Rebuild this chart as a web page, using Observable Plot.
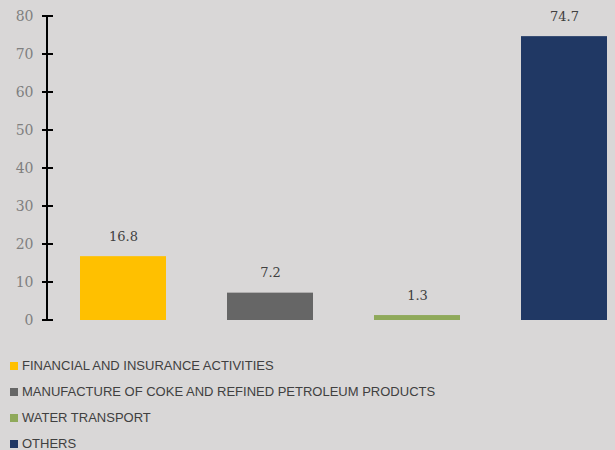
<!DOCTYPE html>
<html>
<head>
<meta charset="utf-8">
<script src="https://cdn.jsdelivr.net/npm/d3@7"></script>
<script src="https://cdn.jsdelivr.net/npm/@observablehq/plot@0.6"></script>
<style>
  html, body { margin: 0; padding: 0; background: #d9d7d7; }
  #chart { width: 615px; height: 450px; overflow: hidden; background: #d9d7d7; }
  .legend { padding: 13px 0 0 10px; font-family: "Liberation Sans", Arial, sans-serif; font-size: 13px; color: #404040; }
  .legend div { height: 26px; line-height: 26px; display: flex; align-items: center; }
  .legend span.sw { display: inline-block; width: 8px; height: 8px; margin-right: 4px; }
</style>
</head>
<body>
<div id="chart"></div>
<script>
const categories = [
  "FINANCIAL AND INSURANCE ACTIVITIES",
  "MANUFACTURE OF COKE AND REFINED PETROLEUM PRODUCTS",
  "WATER TRANSPORT",
  "OTHERS"
];
const values = [16.8, 7.2, 1.3, 74.7];
const colors = ["#FFC000", "#666666", "#8FA95A", "#203864"];
const yTicks = [0, 10, 20, 30, 40, 50, 60, 70, 80];

const data = categories.map((c, i) => ({category: c, value: values[i]}));

const axisLine = (index, scales, values, dims) => {
  const y = scales.y;
  const x0 = dims.marginLeft;
  const g = d3.create("svg:g").attr("stroke", "#000").attr("stroke-width", 2);
  g.append("line").attr("x1", x0).attr("x2", x0).attr("y1", y(0) + 1).attr("y2", y(80) - 1);
  for (const t of yTicks) {
    g.append("line").attr("x1", x0 - 5).attr("x2", x0 + 6).attr("y1", y(t)).attr("y2", y(t));
  }
  return g.node();
};

const chart = Plot.plot({
  width: 615,
  height: 340,
  marginLeft: 47,
  marginRight: 0,
  marginTop: 16,
  marginBottom: 20,
  style: {background: "transparent", fontFamily: "'DejaVu Serif', serif"},
  x: {domain: categories, range: [78, 609], paddingInner: 0.412, paddingOuter: 0, axis: null},
  y: {domain: [0, 80], axis: null},
  color: {domain: categories, range: colors},
  marks: [
    Plot.barY(data, {x: "category", y: "value", fill: "category"}),
    Plot.text(data, {x: "category", y: "value", text: d => d.value.toFixed(1), dy: -20,
      fill: "#404040", fontSize: 13}),
    Plot.axisY({ticks: yTicks, tickSize: 0, tickPadding: 14, label: null,
      fontSize: 14, color: "#7f7f7f"}),
    axisLine
  ]
});
document.getElementById("chart").appendChild(chart);

const legend = d3.select("#chart").append("div").attr("class", "legend");
categories.forEach((c, i) => {
  const row = legend.append("div");
  row.append("span").attr("class", "sw").style("background", colors[i]);
  row.append("span").text(c);
});
</script>
</body>
</html>
